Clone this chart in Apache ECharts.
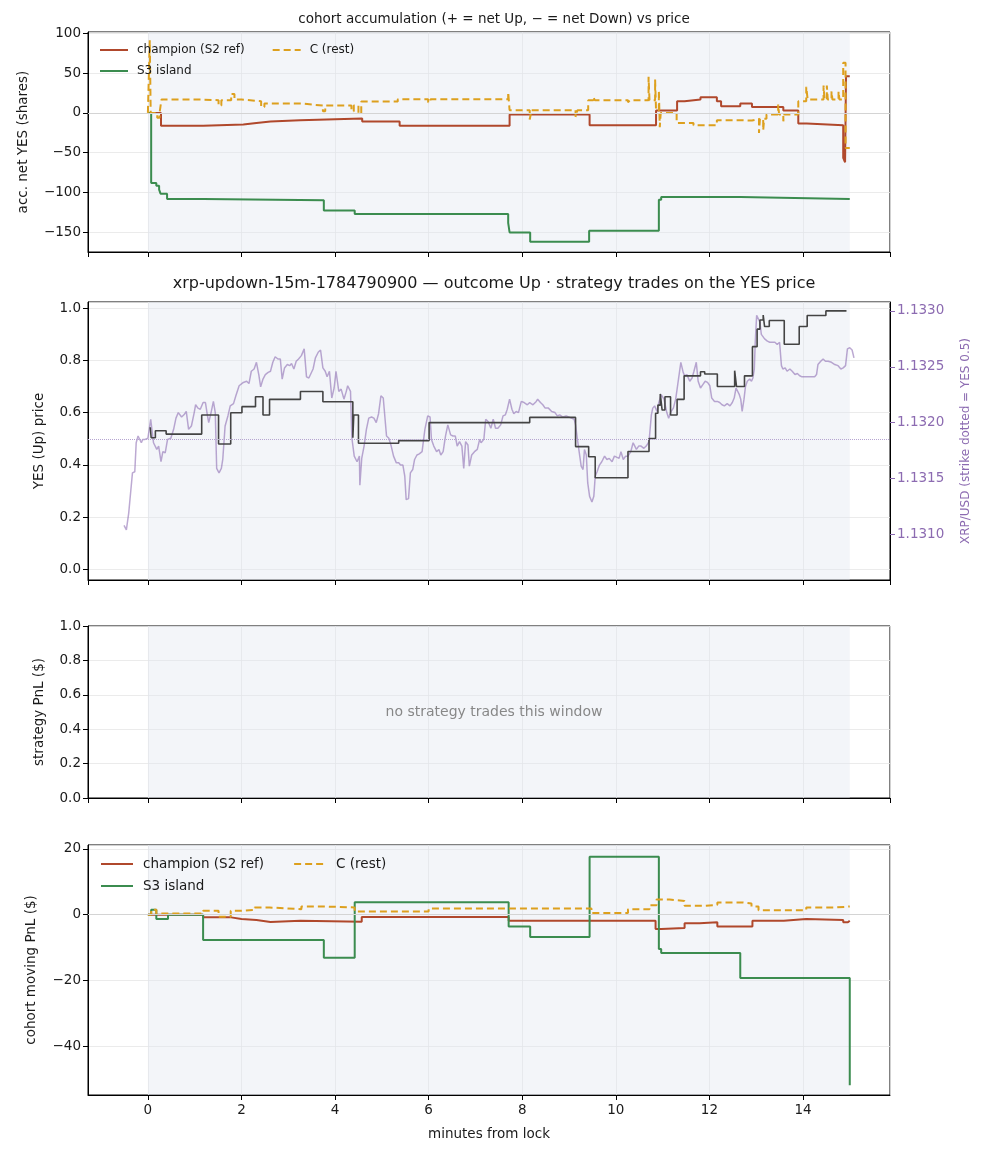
<!DOCTYPE html>
<html>
<head>
<meta charset="utf-8">
<script src="https://cdn.jsdelivr.net/npm/echarts@6/dist/echarts.min.js"></script>
<style>
html,body{margin:0;padding:0;background:#fff;}
#chart{width:988px;height:1156px;}
</style>
</head>
<body>
<div id="chart"></div>
<script>
// [minutes from lock, value]  (values hold until the next point: step post)
var accChampion=[[0,0],[0.28,-16],[1.18,-14.7],[2.04,-12.6],[2.32,-10.9],[2.62,-9.3],[3.25,-7.2],[4.58,-10.9],[5.38,-16.3],
    [7.73,-2.1],[9.44,-15.6],[10.86,2.9],[11.31,14.6],[11.47,16.7],[11.81,19.6],[12.16,14.6],[12.25,8.3],[12.66,11.7],
    [12.91,7.5],[13.58,2.9],[13.9,-13.4],[14.08,-15.4],[14.86,-56.5],[14.9,-62],[14.92,46],[15.0,46]];
var accS3=[[0,0],[0.07,-87.9],[0.18,-91.3],[0.24,-96.4],[0.27,-101.4],[0.41,-108],[1.18,-109.8],[3.76,-122.4],[4.42,-126.9],
    [7.70,-138],[7.73,-150],[8.17,-161.7],[9.43,-147.9],[10.92,-108.9],[10.97,-105.5],[12.66,-108],[15.0,-108]];
var accRest=[[0,0],[0.04,91],[0.06,0],[0.2,-6],[0.25,0],[0.29,16.7],[1.14,15.9],[1.51,9.2],[1.57,15.9],[1.78,23.8],[1.85,16.7],
    [2.0,14.6],[2.42,7.5],[2.49,11.7],[3.28,9.2],[3.74,2.0],[3.79,9.2],[4.35,2.0],[4.4,9.2],[4.5,-0.9],[4.56,14.2],[5.34,17.1],
    [5.99,13.3],[6.04,17.1],[7.70,25.9],[7.73,3.3],[8.16,-8.4],[8.2,3.3],[9.14,-5.0],[9.18,3.3],[9.41,15.9],[9.52,20.1],[9.55,15.9],
    [10.26,13.3],[10.3,15.9],[10.7,45.2],[10.72,15.9],[10.84,41.8],[10.86,3],[10.92,28],[10.94,-18],[10.96,0],[11.3,-12.6],
    [11.66,-15.5],[12.16,-9.2],[12.66,-9.6],[12.91,-7.5],[13.06,-25.1],[13.08,-7.5],[13.15,-21.8],[13.17,-7.5],[13.22,-2.1],
    [13.47,10.5],[13.49,-2.1],[13.58,-10.5],[13.6,-2.1],[13.9,14.6],[14.07,32.7],[14.1,16.7],[14.44,34.3],[14.46,16.7],
    [14.51,34.3],[14.53,16.7],[14.61,27],[14.63,16.7],[14.76,27],[14.78,16.7],[14.86,62.8],[14.91,-44],[15.0,-44]];

var yesPrice=[[0.05,0.544],[0.07,0.504],[0.16,0.531],[0.39,0.518],[1.15,0.591],[1.51,0.48],[1.77,0.6],[2.01,0.623],[2.3,0.661],
    [2.46,0.591],[2.6,0.651],[3.26,0.681],[3.74,0.642],[4.38,0.504],[4.4,0.591],[4.5,0.483],[5.36,0.493],[6.01,0.562],
    [8.16,0.582],[9.14,0.47],[9.42,0.431],[9.56,0.351],[10.26,0.451],[10.71,0.501],[10.85,0.598],[10.9,0.629],[10.95,0.672],
    [10.99,0.61],[11.05,0.661],[11.17,0.591],[11.31,0.651],[11.46,0.741],[11.81,0.757],[11.9,0.748],[12.17,0.7],[12.54,0.761],
    [12.58,0.7],[12.75,0.741],[12.92,0.853],[13.02,0.92],[13.08,0.955],[13.15,0.974],[13.18,0.93],[13.28,0.953],[13.6,0.862],
    [13.92,0.93],[14.09,0.972],[14.49,0.99],[14.93,0.99]];
var yesStrike=0.5;

var xrpUsd=[[-0.51,1.13108],[-0.46,1.13104],[-0.41,1.13119],[-0.37,1.13137],[-0.33,1.13155],[-0.28,1.13156],[-0.25,1.13182],
    [-0.21,1.13188],[-0.18,1.13189],[-0.14,1.13182],[-0.11,1.13185],[-0.06,1.13185],[0,1.13186],[0.06,1.13203],[0.09,1.13204],
    [0.12,1.13182],[0.16,1.13183],[0.19,1.13176],[0.23,1.13179],[0.28,1.13165],[0.32,1.13174],[0.37,1.13173],[0.42,1.13185],
    [0.49,1.13186],[0.55,1.13194],[0.6,1.13204],[0.65,1.13209],[0.72,1.13205],[0.77,1.13207],[0.82,1.1321],[0.87,1.13194],
    [0.93,1.13197],[0.99,1.13209],[1.02,1.13216],[1.07,1.13213],[1.12,1.13212],[1.18,1.13218],[1.23,1.13218],[1.27,1.13207],
    [1.3,1.132],[1.35,1.13209],[1.4,1.13219],[1.44,1.13209],[1.47,1.13159],[1.52,1.13155],[1.57,1.13159],[1.6,1.13167],
    [1.65,1.13197],[1.71,1.13206],[1.76,1.13215],[1.83,1.13217],[1.88,1.13224],[1.95,1.13233],[2.04,1.13236],[2.11,1.13237],
    [2.16,1.13235],[2.21,1.13246],[2.27,1.13248],[2.32,1.13254],[2.37,1.13243],[2.41,1.13232],[2.46,1.13239],[2.51,1.13243],
    [2.57,1.13245],[2.62,1.13246],[2.67,1.13254],[2.72,1.13259],[2.78,1.13257],[2.83,1.13257],[2.87,1.13239],[2.92,1.13249],
    [2.98,1.13252],[3.03,1.13251],[3.07,1.13253],[3.12,1.13248],[3.17,1.13255],[3.22,1.13257],[3.28,1.1326],[3.34,1.13266],
    [3.39,1.13241],[3.44,1.1324],[3.48,1.13239],[3.53,1.13248],[3.58,1.13258],[3.64,1.13263],[3.69,1.13265],[3.74,1.13249],
    [3.79,1.13246],[3.83,1.13241],[3.88,1.13246],[3.93,1.13222],[3.98,1.13231],[4.02,1.13246],[4.08,1.13228],[4.13,1.1323],
    [4.19,1.13221],[4.24,1.13228],[4.27,1.13233],[4.33,1.13228],[4.36,1.13186],[4.41,1.1317],[4.47,1.13165],[4.52,1.1317],
    [4.53,1.13144],[4.57,1.13168],[4.62,1.13179],[4.67,1.13194],[4.72,1.13204],[4.78,1.13205],[4.83,1.13204],[4.88,1.132],
    [4.93,1.13208],[4.98,1.13224],[5.03,1.13222],[5.06,1.13221],[5.1,1.13188],[5.15,1.13186],[5.2,1.13179],[5.25,1.1317],
    [5.31,1.13164],[5.36,1.13164],[5.4,1.13162],[5.45,1.13162],[5.49,1.13152],[5.52,1.13131],[5.57,1.13132],[5.61,1.13155],
    [5.66,1.13158],[5.7,1.13167],[5.75,1.13171],[5.8,1.13172],[5.86,1.13174],[5.92,1.13194],[5.98,1.13206],[6.03,1.13205],
    [6.06,1.13185],[6.11,1.13179],[6.17,1.13174],[6.22,1.13176],[6.26,1.13171],[6.31,1.13174],[6.36,1.13188],[6.41,1.13198],
    [6.47,1.13189],[6.52,1.13188],[6.57,1.13188],[6.61,1.13179],[6.66,1.13183],[6.71,1.13179],[6.75,1.13159],[6.79,1.13183],
    [6.84,1.1318],[6.87,1.13161],[6.92,1.13171],[6.98,1.13174],[7.04,1.13176],[7.09,1.13185],[7.12,1.13182],[7.18,1.13185],
    [7.22,1.13203],[7.27,1.13201],[7.33,1.13195],[7.38,1.13203],[7.43,1.13195],[7.48,1.13195],[7.54,1.13198],[7.59,1.13206],
    [7.64,1.13207],[7.68,1.13212],[7.73,1.13221],[7.78,1.13212],[7.82,1.13208],[7.87,1.1321],[7.92,1.13209],[7.98,1.13219],
    [8.04,1.13218],[8.11,1.13216],[8.16,1.13218],[8.23,1.13216],[8.3,1.13219],[8.33,1.13221],[8.39,1.13218],[8.44,1.13216],
    [8.49,1.13213],[8.56,1.13213],[8.63,1.1321],[8.7,1.13209],[8.75,1.13206],[8.8,1.13207],[8.87,1.13205],[8.94,1.13206],
    [9.05,1.13204],[9.11,1.13203],[9.14,1.13198],[9.18,1.13185],[9.23,1.1317],[9.26,1.13161],[9.3,1.13158],[9.33,1.13176],
    [9.37,1.13171],[9.4,1.13146],[9.44,1.13134],[9.49,1.13129],[9.53,1.13134],[9.56,1.13152],[9.6,1.13156],[9.65,1.13162],
    [9.7,1.13165],[9.76,1.1317],[9.81,1.13167],[9.86,1.13168],[9.92,1.13165],[9.97,1.1317],[10.01,1.1317],[10.07,1.13168],
    [10.11,1.13174],[10.16,1.13167],[10.21,1.1317],[10.26,1.1317],[10.32,1.13174],[10.37,1.13182],[10.4,1.13183],[10.44,1.13176],
    [10.49,1.13179],[10.54,1.13179],[10.6,1.13177],[10.65,1.13179],[10.71,1.13183],[10.76,1.13207],[10.79,1.13213],[10.83,1.13215],
    [10.88,1.1321],[10.92,1.13218],[10.97,1.13225],[11.03,1.13221],[11.09,1.13209],[11.13,1.13204],[11.18,1.1321],[11.23,1.13213],
    [11.28,1.13221],[11.33,1.13236],[11.39,1.13254],[11.44,1.13245],[11.47,1.13242],[11.52,1.13243],[11.58,1.13237],[11.63,1.1324],
    [11.67,1.13246],[11.72,1.13254],[11.76,1.13237],[11.81,1.13231],[11.86,1.13234],[11.91,1.13237],[11.96,1.13236],[12.01,1.13233],
    [12.05,1.13222],[12.11,1.13219],[12.17,1.13219],[12.22,1.13218],[12.27,1.13216],[12.32,1.13215],[12.38,1.13217],[12.44,1.13215],
    [12.49,1.13218],[12.53,1.13222],[12.57,1.13231],[12.6,1.13232],[12.64,1.13225],[12.67,1.13221],[12.7,1.1321],[12.74,1.13221],
    [12.77,1.13232],[12.81,1.13237],[12.86,1.13239],[12.9,1.13237],[12.93,1.1324],[12.96,1.13248],[12.98,1.13272],[13.01,1.13296],
    [13.04,1.13297],[13.08,1.1329],[13.11,1.13279],[13.15,1.13279],[13.18,1.13275],[13.24,1.13273],[13.29,1.13272],[13.34,1.13272],
    [13.4,1.13272],[13.45,1.1327],[13.5,1.13272],[13.54,1.13251],[13.57,1.13248],[13.62,1.13249],[13.66,1.13246],[13.72,1.13248],
    [13.77,1.13246],[13.83,1.13243],[13.88,1.13244],[13.93,1.13242],[13.98,1.13241],[14.04,1.13241],[14.11,1.13241],[14.18,1.13241],
    [14.25,1.13241],[14.29,1.13243],[14.32,1.13252],[14.38,1.13255],[14.43,1.13257],[14.48,1.13255],[14.54,1.13255],[14.61,1.13254],
    [14.68,1.13252],[14.75,1.13251],[14.81,1.13248],[14.86,1.13249],[14.91,1.13251],[14.95,1.13266],[15.0,1.13267],[15.05,1.13265],
    [15.09,1.13258]];

var pnlChampion=[[0,0],[1.18,-0.8],[1.78,-1.3],[2.0,-1.6],[2.32,-2.2],[2.62,-1.8],[3.26,-2.1],[4.57,-0.7],[7.71,-1.8],
    [10.85,-4.3],[10.97,-4.0],[11.47,-2.6],[11.79,-2.3],[12.17,-3.6],[12.92,-1.8],[13.59,-1.3],[14.07,-1.6],[14.86,-2.3],
    [14.96,-1.8],[15.0,-1.8]];
var pnlS3=[[0,0],[0.07,1.5],[0.18,-1.3],[0.43,0],[1.18,-7.7],[3.76,-13.1],[4.42,3.8],[7.71,-3.6],[8.17,-6.8],[9.44,17.6],
    [10.92,-10.4],[10.97,-11.6],[12.66,-19.2],[15.0,-51.8]];
var pnlRest=[[0,0],[0.07,1.5],[0.18,0.4],[1.18,1.2],[1.51,-0.6],[1.77,1.2],[2.0,1.5],[2.28,2.2],[2.6,1.7],[3.28,2.5],[3.79,2.2],
    [4.42,1.0],[6.0,1.9],[9.48,0.5],[10.26,1.7],[10.72,2.9],[10.87,4.6],[11.15,4.2],[11.47,2.7],[11.87,3.0],[12.17,3.7],
    [12.72,3.4],[12.9,2.5],[13.05,1.4],[14.07,2.2],[14.68,2.5],[15.0,2.5]];

var windowStart=0, windowEnd=15;
var names=['champion (S2 ref)','S3 island','C (rest)'];

var font='DejaVu Sans';
var ink='#1a1a1a';
var purple='#8c6bb1';
var shade='rgba(226,229,241,0.4)';
var gridLine={show:true,lineStyle:{color:'#e6e6e6',width:0.8}};

function minus(v){ return String(v).replace('-','\u2212'); }

var chart=echarts.init(document.getElementById('chart'),null,{renderer:'canvas'});

var grids=[
    {left:88,right:98,top:32,height:220},
    {left:88,right:98,top:302,height:278},
    {left:88,right:98,top:626,height:172},
    {left:88,right:98,top:845,height:250}
];
grids.forEach(function(g){ g.show=true; g.borderColor='#000'; g.borderWidth=1; g.backgroundColor='transparent'; });

function xAx(i,last){
    return {
        type:'value',gridIndex:i,min:-1.28,max:15.86,minInterval:2,maxInterval:2,
        axisLine:{show:true,onZero:false,lineStyle:{color:'#000'}},
        axisTick:{show:true,length:5,lineStyle:{color:'#000'}},
        axisLabel:{show:last,color:ink,fontSize:13.5,fontFamily:font,margin:8,showMinLabel:false,showMaxLabel:false},
        splitLine:gridLine,
        name:last?'minutes from lock':'',nameLocation:'middle',nameGap:32,
        nameTextStyle:{color:ink,fontSize:13.5,fontFamily:font}
    };
}
function yAx(i,o){
    var a={
        type:'value',gridIndex:i,
        axisLine:{show:true,onZero:false,lineStyle:{color:'#000'}},
        axisTick:{show:true,length:5,lineStyle:{color:'#000'}},
        axisLabel:{color:ink,fontSize:13.5,fontFamily:font,margin:7,showMinLabel:false,showMaxLabel:false},
        splitLine:gridLine,
        nameLocation:'middle',
        nameTextStyle:{color:ink,fontSize:13.5,fontFamily:font}
    };
    for(var k in o){ a[k]=o[k]; }
    return a;
}

function step(name,data,color,xi,yi,dashed,width){
    return {
        type:'line',name:name,data:data,step:'end',xAxisIndex:xi,yAxisIndex:yi,
        symbol:'none',showSymbol:false,silent:true,
        lineStyle:{color:color,width:width||2,type:dashed?[7,4]:'solid'},
        itemStyle:{color:color}
    };
}
function band(){
    return {silent:true,itemStyle:{color:shade},data:[[{xAxis:windowStart},{xAxis:windowEnd}]]};
}
function hline(v,color,type){
    return {silent:true,symbol:'none',label:{show:false},
        lineStyle:{color:color,width:1,type:type},data:[{yAxis:v}]};
}

var cRed='#b0482c', cGreen='#3b8c4f', cOrange='#dda01e';

var s0=step(names[0],accChampion,cRed,0,0);
s0.markArea=band(); s0.markLine=hline(0,'#d4d4d4','solid');
var s1=step(names[1],accS3,cGreen,0,0);
var s2=step(names[2],accRest,cOrange,0,0,true);

var sx={type:'line',name:'XRP/USD',data:xrpUsd,xAxisIndex:1,yAxisIndex:2,symbol:'none',showSymbol:false,silent:true,
    lineStyle:{color:'rgba(140,107,177,0.58)',width:1.5},itemStyle:{color:purple}};
var sy=step('YES',yesPrice,'#444444',1,1,false,1.6);
sy.markArea=band(); sy.markLine=hline(yesStrike,'#b6a5d1','dotted');

var se={type:'line',name:'strategy',data:[],xAxisIndex:2,yAxisIndex:3,symbol:'none',silent:true,markArea:band()};

var p0=step(names[0],pnlChampion,cRed,3,4);
p0.markArea=band(); p0.markLine=hline(0,'#d4d4d4','solid');
var p1=step(names[1],pnlS3,cGreen,3,4);
var p2=step(names[2],pnlRest,cOrange,3,4,true);

function legend(items,left,top,size,w,gap,pad){
    return {data:items,left:left,top:top,orient:'horizontal',padding:0,itemWidth:w,itemHeight:12,itemGap:gap,
        selectedMode:false,itemStyle:{opacity:0},lineStyle:{width:2},
        textStyle:{color:ink,fontSize:size,fontFamily:font,padding:[0,0,0,pad]}};
}

chart.setOption({
    animation:false,
    textStyle:{fontFamily:font},
    title:[
        {text:'cohort accumulation (+ = net Up, \u2212 = net Down) vs price',left:489,top:7,textAlign:'center',
            textStyle:{color:ink,fontSize:13.5,fontWeight:'normal',fontFamily:font}},
        {text:'xrp-updown-15m-1784790900 \u2014 outcome Up \u00b7 strategy trades on the YES price',left:489,top:271,textAlign:'center',
            textStyle:{color:ink,fontSize:16,fontWeight:'normal',fontFamily:font}},
        {text:'no strategy trades this window',left:489,top:700,textAlign:'center',
            textStyle:{color:'#888',fontSize:14,fontWeight:'normal',fontFamily:font}}
    ],
    legend:[
        legend([names[0],names[2]],99,44,12,28,27,4),
        legend([names[1]],99,65,12,28,27,4),
        legend([names[0],names[2]],100,857,13.5,32,29,5),
        legend([names[1]],100,879,13.5,32,29,5)
    ],
    grid:grids,
    xAxis:[xAx(0,false),xAx(1,false),xAx(2,false),xAx(3,true)],
    yAxis:[
        yAx(0,{min:-174.6,max:101.5,minInterval:50,maxInterval:50,name:'acc. net YES (shares)',nameGap:58,
            axisLabel:{color:ink,fontSize:13.5,fontFamily:font,margin:7,showMinLabel:false,showMaxLabel:false,formatter:minus}}),
        yAx(1,{min:-0.041,max:1.024,minInterval:0.2,maxInterval:0.2,name:'YES (Up) price',nameGap:42,
            axisLabel:{color:ink,fontSize:13.5,fontFamily:font,margin:7,showMinLabel:false,showMaxLabel:false,
                formatter:function(v){return v.toFixed(1);}}}),
        yAx(1,{position:'right',min:1.130591,max:1.13308,minInterval:0.0005,maxInterval:0.0005,
            name:'XRP/USD (strike dotted = YES 0.5)',nameGap:70,splitLine:{show:false},
            axisTick:{show:true,length:5,lineStyle:{color:purple}},
            axisLabel:{color:purple,fontSize:13.5,fontFamily:font,margin:7,showMinLabel:false,showMaxLabel:false,
                formatter:function(v){return v.toFixed(4);}},
            nameTextStyle:{color:purple,fontSize:12,fontFamily:font}}),
        yAx(2,{min:0,max:1,interval:0.2,name:'strategy PnL ($)',nameGap:42,
            axisLabel:{color:ink,fontSize:13.5,fontFamily:font,margin:7,formatter:function(v){return v.toFixed(1);}}}),
        yAx(3,{min:-54.8,max:21.2,minInterval:20,maxInterval:20,name:'cohort moving PnL ($)',nameGap:50,
            axisLabel:{color:ink,fontSize:13.5,fontFamily:font,margin:7,showMinLabel:false,showMaxLabel:false,formatter:minus}})
    ],
    series:[s0,s1,s2,sx,sy,se,p0,p1,p2]
});
</script>
</body>
</html>
